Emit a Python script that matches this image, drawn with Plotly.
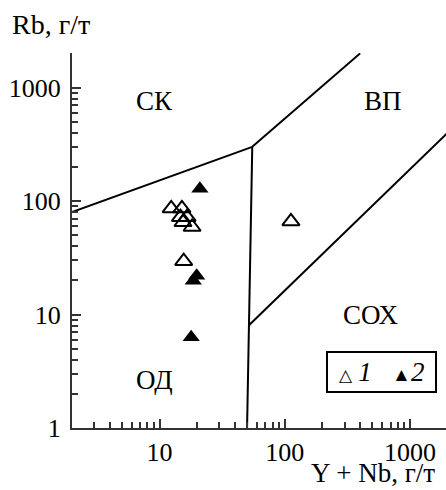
import plotly.graph_objects as go

# Data: group 1 (open triangles) and group 2 (filled triangles)
g1_x = [12.4, 15.1, 14.7, 16.6, 15.4, 18.2, 15.6, 112]
g1_y = [86, 86, 72, 72, 65, 59, 29.5, 66]
g2_x = [21.0, 19.8, 18.6, 17.9]
g2_y = [128, 22, 19.8, 6.3]

# Pearce et al. (1984) field boundaries
b1_x = [2, 55]
b1_y = [80, 300]
b2_x = [55, 400]
b2_y = [300, 2000]
b3_x = [55, 51.5, 50]
b3_y = [300, 8, 1]
b4_x = [51.5, 2000]
b4_y = [8, 400]

field_labels = ["СК", "ВП", "СОХ", "ОД"]
legend_labels = ["1", "2"]
x_ticks = [10, 100, 1000]
y_ticks = [1, 10, 100, 1000]

FONT = "Liberation Serif, Times New Roman, serif"

fig = go.Figure()
for bx, by in [(b1_x, b1_y), (b2_x, b2_y), (b3_x, b3_y), (b4_x, b4_y)]:
    fig.add_trace(go.Scatter(x=bx, y=by, mode="lines",
                             line=dict(color="black", width=2),
                             showlegend=False, hoverinfo="skip"))

fig.add_trace(go.Scatter(x=g1_x, y=g1_y, mode="markers", name=legend_labels[0],
                         showlegend=False,
                         marker=dict(symbol="triangle-up-open", size=15,
                                     color="black", line=dict(width=2, color="black"))))
fig.add_trace(go.Scatter(x=g2_x, y=g2_y, mode="markers", name=legend_labels[1],
                         showlegend=False,
                         marker=dict(symbol="triangle-up", size=15, color="black",
                                     line=dict(width=0))))

minor_vals = []
for d in [1, 10, 100, 1000]:
    for m in range(2, 10):
        minor_vals.append(m * d)

axis_common = dict(
    type="log", showgrid=False, zeroline=False, showline=True, automargin=False,
    linecolor="#333", linewidth=2, ticks="inside", ticklen=9, tickwidth=2,
    tickcolor="#333", tickfont=dict(family=FONT, size=26, color="black"),
    tickmode="array",
    minor=dict(ticks="inside", ticklen=6, tickwidth=2, tickcolor="#333",
               tickmode="array", tickvals=minor_vals, showgrid=False),
)

fig.update_xaxes(**axis_common, range=[0.3014, 3.287],
                 tickvals=x_ticks, ticktext=[str(v) for v in x_ticks],
                 ticklabelstandoff=0)
fig.update_yaxes(**axis_common, range=[0.0, 3.304],
                 tickvals=y_ticks, ticktext=[str(v) for v in y_ticks],
                 ticklabelstandoff=4)

ann_pos = [(0.958, 2.877), (2.784, 2.877), (2.688, 0.997), (0.958, 0.424)]
annotations = []
for txt, (ax, ay) in zip(field_labels, ann_pos):
    annotations.append(dict(x=ax, y=ay, xref="x", yref="y", text=txt, showarrow=False,
                            font=dict(family=FONT, size=27, color="black")))
annotations.append(dict(x=-0.166, y=1.075, xref="paper", yref="paper", text="Rb, г/т",
                        showarrow=False, xanchor="left", yanchor="middle",
                        font=dict(family=FONT, size=28, color="black")))
annotations.append(dict(x=0.976, y=-0.1653, xref="paper", yref="paper", text="Y + Nb, г/т",
                        showarrow=False, xanchor="right", yanchor="bottom",
                        font=dict(family=FONT, size=27, color="black")))
# legend box drawn as a bordered text annotation
legend_text = ('<span style="font-size:17px">△</span> <i>%s</i>   '
               '<span style="font-size:19px">▲</span><i>%s</i>') % tuple(legend_labels)
annotations.append(dict(x=0.679, y=0.2053, xref="paper", yref="paper", text=legend_text,
                        showarrow=False, xanchor="left", yanchor="top",
                        width=107, height=38, align="center", valign="middle",
                        bordercolor="black", borderwidth=2, borderpad=0, bgcolor="white",
                        font=dict(family=FONT, size=27, color="black")))

fig.update_layout(
    width=446, height=490,
    margin=dict(l=72, r=0, t=53, b=62),
    paper_bgcolor="white", plot_bgcolor="white",
    annotations=annotations,
    showlegend=False,
)

fig.write_html("out.html", config={"displayModeBar": False},
               post_script="document.body.style.margin='0px';")
